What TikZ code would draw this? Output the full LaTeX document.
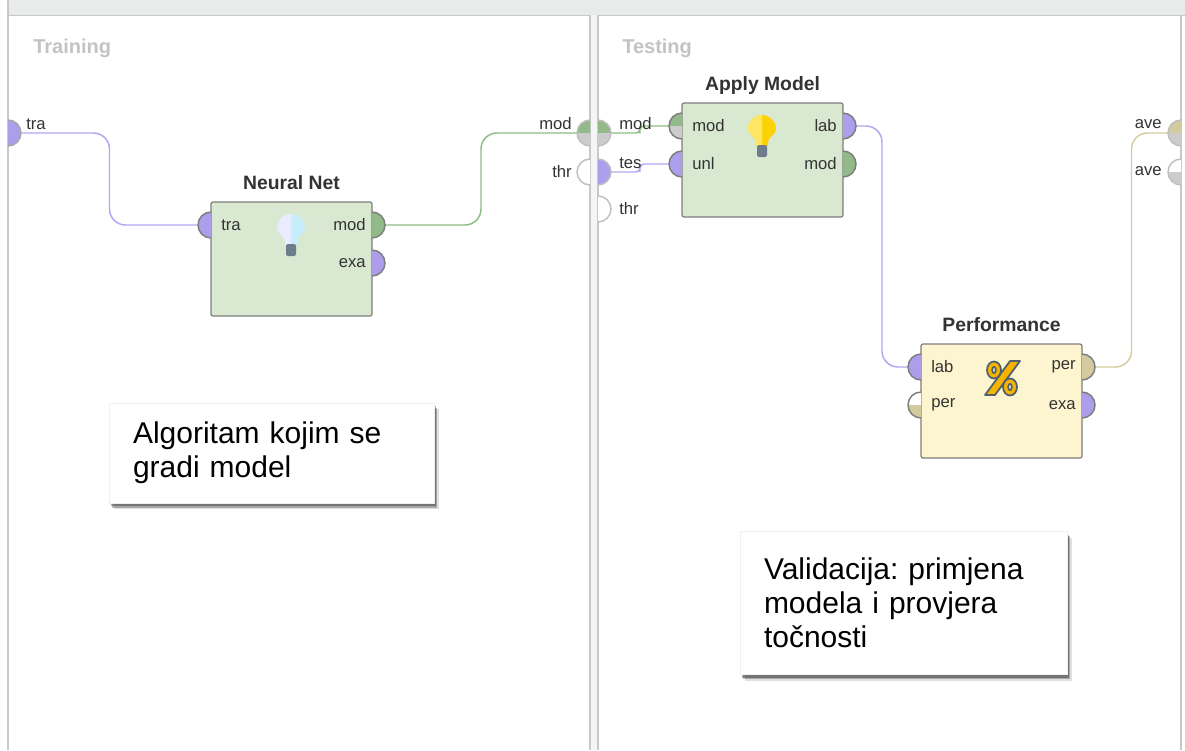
\documentclass[tikz,border=0pt]{standalone}
\usepackage{fontspec}
\setmainfont{Liberation Sans}
\usetikzlibrary{calc,shadows}
\frenchspacing

\definecolor{opgreen}{RGB}{217,232,208}
\definecolor{opyellow}{RGB}{253,245,208}
\definecolor{opedge}{RGB}{125,125,125}
\definecolor{pportc}{RGB}{172,158,234}
\definecolor{gportc}{RGB}{146,186,136}
\definecolor{tportc}{RGB}{212,202,160}
\definecolor{nportc}{RGB}{204,204,204}
\definecolor{wpurpc}{RGB}{180,165,240}
\definecolor{wgreenc}{RGB}{140,190,130}
\definecolor{wtanc}{RGB}{215,205,160}
\definecolor{framec}{RGB}{200,200,200}
\definecolor{barc}{RGB}{233,234,234}
\definecolor{grouptxt}{RGB}{195,195,195}
\definecolor{labtxt}{RGB}{51,51,51}
\definecolor{bulbbase}{RGB}{110,125,140}
\definecolor{pctfill}{RGB}{245,180,0}
\definecolor{pctedge}{RGB}{80,95,110}

\tikzset{
  op/.style={draw=opedge, line width=0.9pt, rounded corners=1.5pt, minimum width=120.75pt, minimum height=85.5pt, inner sep=0pt},
  optitle/.style={font=\fontsize{14.5}{17}\selectfont\bfseries, text=labtxt, inner sep=0pt, anchor=base},
  plab/.style={font=\fontsize{12.5}{14}\selectfont, text=labtxt, inner sep=0pt},
  grp/.style={font=\fontsize{15}{18}\selectfont\bfseries, text=grouptxt, inner sep=0pt, anchor=west},
  wire/.style={line width=1.1pt, rounded corners=12pt},
  note/.style={fill=white, draw=black!6,
    drop shadow={shadow xshift=1.5pt, shadow yshift=-2.5pt, opacity=0.3, fill=black},
    drop shadow={shadow xshift=2.5pt, shadow yshift=-3.5pt, opacity=0.25, fill=black},
    drop shadow={shadow xshift=3.5pt, shadow yshift=-4.5pt, opacity=0.12, fill=black},
    align=left, font=\fontsize{22.5}{25.5}\selectfont, inner xsep=18pt, inner ysep=0pt},
  pctpart/.style={fill=pctfill, draw=pctedge, line width=1.3pt, line join=round},
  pics/portR/.style n args={3}{code={
    \begin{scope}[yscale=-1]
    \fill[#1] (0,0) -- (0,-13) arc[start angle=-90,end angle=0,radius=13] -- cycle;
    \fill[#2] (0,0) -- (13,0) arc[start angle=0,end angle=90,radius=13] -- cycle;
    \draw[#3, line width=1.1pt] (0,-13) arc[start angle=-90,end angle=90,radius=13];
    \end{scope}
  }},
  pics/portL/.style n args={3}{code={
    \begin{scope}[yscale=-1]
    \fill[#1] (0,0) -- (0,-13) arc[start angle=270,end angle=180,radius=13] -- cycle;
    \fill[#2] (0,0) -- (-13,0) arc[start angle=180,end angle=90,radius=13] -- cycle;
    \draw[#3, line width=1.1pt] (0,-13) arc[start angle=270,end angle=90,radius=13];
    \end{scope}
  }},
  pics/bulb/.style 2 args={code={
    \begin{scope}[yscale=-1]
    \fill[#2] (-6,17) -- (-6,13) .. controls (-6,8) and (-14,6) .. (-14,0) arc[start angle=180,end angle=360,radius=14] .. controls (14,6) and (6,8) .. (6,13) -- (6,17) -- cycle;
    \begin{scope}
      \clip (-15,-15) rectangle (0,18);
      \fill[#1] (-6,17) -- (-6,13) .. controls (-6,8) and (-14,6) .. (-14,0) arc[start angle=180,end angle=360,radius=14] .. controls (14,6) and (6,8) .. (6,13) -- (6,17) -- cycle;
    \end{scope}
    \fill[bulbbase, rounded corners=1.5pt] (-5,16) rectangle (5,28);
    \end{scope}
  }},
}

\begin{document}
\begin{tikzpicture}[x=0.75pt,y=0.75pt,yscale=-1]
\useasboundingbox (0,0) rectangle (1185,750);
\fill[white] (0,0) rectangle (1185,750);

% Frame of the two panels
\fill[barc] (8,0) rectangle (1185,15);
\draw[framec] (8,15) -- (1185,15);
\draw[framec, line width=1pt] (8,0) -- (8,750);
\fill[black!4] (590,15) rectangle (598,750);
\draw[framec, line width=1pt] (590,15) -- (590,750);
\draw[framec, line width=1pt] (598,15) -- (598,750);
\draw[framec, line width=1pt] (1181,15) -- (1181,750);

% Panel titles
\node[grp] (g-train) at (33,48) {Training};
\node[grp] (g-test) at (622,48) {Testing};

% Connection points
\coordinate (tra-src) at (21,133);
\coordinate (mod-snk) at (577,133);
\coordinate (mod-src) at (611,133);
\coordinate (tes-src) at (611,172);
\coordinate (ave-snk) at (1168,133);
\coordinate (nn-tra) at (198,225);
\coordinate (nn-mod) at (385,225);
\coordinate (am-mod) at (669,126);
\coordinate (am-unl) at (669,164);
\coordinate (am-lab) at (856,126);
\coordinate (pf-lab) at (908,367);
\coordinate (pf-per) at (1095,367);

% Wires
\draw[wire, wpurpc] (tra-src) -| ($(tra-src)!.5!(nn-tra)$) |- (nn-tra);
\draw[wire, wgreenc] (nn-mod) -| ($(nn-mod)!.5!(mod-snk)$) |- (mod-snk);
\draw[wire, wgreenc, rounded corners=3pt] (mod-src) -| ($(mod-src)!.5!(am-mod)$) |- (am-mod);
\draw[wire, wpurpc, rounded corners=3pt] (tes-src) -| ($(tes-src)!.5!(am-unl)$) |- (am-unl);
\draw[wire, wpurpc] (am-lab) -| ($(am-lab)!.5!(pf-lab)$) |- (pf-lab);
\draw[wire, wtanc] (pf-per) -| ($(pf-per)!.5!(ave-snk)$) |- (ave-snk);

% Operators
\node[op, fill=opgreen] (nn) at (291.5,259) {};
\node[op, fill=opgreen] (apply) at (762.5,160) {};
\node[op, fill=opyellow] (perf) at (1001.5,401) {};
\node[optitle] (nn-title) at ([yshift=-8.6pt]nn.north) {Neural Net};
\node[optitle] (apply-title) at ([yshift=-8.6pt]apply.north) {Apply Model};
\node[optitle] (perf-title) at ([yshift=-8.6pt]perf.north) {Performance};

% Icons
\pic at (291,228) {bulb={blue!8}{cyan!22}};
\pic at (762,129) {bulb={yellow!75!orange!60}{yellow!70!orange}};
% percent sign
\path[pctpart] (985,395) -- (995,395) -- (1020,361) -- (1010,361) -- cycle;
\path[pctpart, even odd rule] (994,370) ellipse[x radius=7, y radius=8.5] (994,370) ellipse[x radius=1.8, y radius=3.2];
\path[pctpart, even odd rule] (1010,387) ellipse[x radius=7, y radius=8.5] (1010,387) ellipse[x radius=1.8, y radius=3.2];

% Panel ports
\pic at (8,133) {portR={pportc}{pportc}{black!35}};
\pic at (590,133) {portL={gportc}{nportc}{black!25}};
\pic at (590,172) {portL={white}{white}{black!25}};
\pic at (598,133) {portR={gportc}{nportc}{black!25}};
\pic at (598,172) {portR={pportc}{pportc}{black!25}};
\pic at (598,209) {portR={white}{white}{black!25}};
\pic at (1181,133) {portL={tportc}{nportc}{black!25}};
\pic at (1181,172) {portL={white}{nportc}{black!25}};

% Operator ports
\pic at (211,225) {portL={pportc}{pportc}{opedge}};
\pic at (372,225) {portR={gportc}{gportc}{opedge}};
\pic at (372,263) {portR={pportc}{pportc}{opedge}};
\pic at (682,126) {portL={gportc}{nportc}{opedge}};
\pic at (682,164) {portL={pportc}{pportc}{opedge}};
\pic at (843,126) {portR={pportc}{pportc}{opedge}};
\pic at (843,164) {portR={gportc}{gportc}{opedge}};
\pic at (921,367) {portL={pportc}{pportc}{opedge}};
\pic at (921,405) {portL={white}{tportc}{opedge}};
\pic at (1082,367) {portR={tportc}{tportc}{opedge}};
\pic at (1082,405) {portR={pportc}{pportc}{opedge}};

% Port labels
\node[plab, anchor=west] (l-tra) at (26,124) {tra};
\node[plab, anchor=east] (l-mod) at (572,124) {mod};
\node[plab, anchor=east] (l-thr) at (572,172) {thr};
\node[plab, anchor=west] (r-mod) at (619,124) {mod};
\node[plab, anchor=west] (r-tes) at (619,163) {tes};
\node[plab, anchor=west] (r-thr) at (619,209) {thr};
\node[plab, anchor=east] (r-ave1) at (1162,124) {ave};
\node[plab, anchor=east] (r-ave2) at (1162,171) {ave};
\node[plab, anchor=west] (nn-l1) at (221,225) {tra};
\node[plab, anchor=east] (nn-r1) at (366,225) {mod};
\node[plab, anchor=east] (nn-r2) at (366,263) {exa};
\node[plab, anchor=west] (am-l1) at (692,126) {mod};
\node[plab, anchor=west] (am-l2) at (692,164) {unl};
\node[plab, anchor=east] (am-r1) at (837,126) {lab};
\node[plab, anchor=east] (am-r2) at (837,164) {mod};
\node[plab, anchor=west] (pf-l1) at (931,367) {lab};
\node[plab, anchor=west] (pf-l2) at (931,405) {per};
\node[plab, anchor=east] (pf-r1) at (1076,367) {per};
\node[plab, anchor=east] (pf-r2) at (1076,405) {exa};

% Notes
\node[note, text width=207.75pt, minimum height=75pt] (note-train) at (271.5,453) {Algoritam kojim se\\gradi model};
\node[note, text width=209.25pt, minimum height=107.25pt] (note-test) at (903.5,603) {Validacija: primjena\\modela i provjera\\točnosti};

\end{tikzpicture}
\end{document}
